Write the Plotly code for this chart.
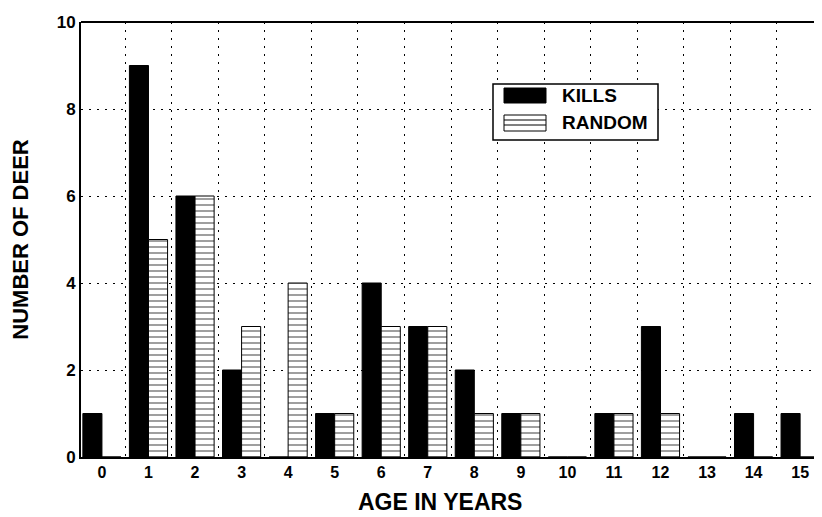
import plotly.graph_objects as go

ages = list(range(16))
kills = [1, 9, 6, 2, 0, 1, 4, 3, 2, 1, 0, 1, 3, 0, 1, 1]
random_ = [0, 5, 6, 3, 4, 1, 3, 3, 1, 1, 0, 1, 1, 0, 0, 0]
yticks = [0, 2, 4, 6, 8, 10]

FONT = "Liberation Sans, Arial, sans-serif"
DOT = "2px,6px"

W, H = 814, 509
L, R, T, B = 73, 0, 14, 60
PW, PH = W - L - R, H - T - B

def px(x):  # figure pixel -> paper x
    return (x - L) / PW

def py(y):  # figure pixel -> paper y
    return (H - B - y) / PH

fig = go.Figure()
fig.add_trace(go.Bar(
    x=ages, y=kills, name="KILLS", showlegend=False,
    marker=dict(color="black", line=dict(color="black", width=1)),
))
fig.add_trace(go.Bar(
    x=ages, y=random_, name="RANDOM", showlegend=False,
    marker=dict(color="white", line=dict(color="black", width=1),
                pattern=dict(shape="-", fgcolor="black", bgcolor="white",
                             size=6, solidity=0.25)),
))

fig.update_layout(
    width=W, height=H,
    margin=dict(l=L, r=R, t=T, b=B, autoexpand=False),
    paper_bgcolor="white", plot_bgcolor="white",
    barmode="group", bargap=0.18, bargroupgap=0,
    font=dict(family=FONT, color="black", size=16),
    xaxis=dict(
        range=[-0.45, 15.47], tickmode="array", tickvals=ages,
        ticktext=["<b>%d</b>" % a for a in ages], showgrid=False, zeroline=False,
        showline=True, linecolor="black", linewidth=2, mirror=False,
        ticks="", automargin=False, tickfont=dict(size=16, family=FONT),
        minor=dict(tickmode="linear", tick0=0.5, dtick=1, showgrid=True,
                   gridcolor="black", griddash=DOT, gridwidth=1, ticks=""),
    ),
    yaxis=dict(
        range=[0, 10], tickmode="array", tickvals=yticks,
        ticktext=["<b>%d</b>" % v for v in yticks],
        showgrid=True, gridcolor="black", griddash=DOT, gridwidth=1,
        zeroline=False, showline=True, linecolor="black", linewidth=2,
        ticks="", automargin=False, tickfont=dict(size=17, family=FONT),
        title=dict(text="<b>NUMBER OF DEER</b>", font=dict(size=22, family=FONT), standoff=23),
    ),
)
# x axis title placed as in the original (slightly left of plot centre)
fig.add_annotation(text="<b>AGE IN YEARS</b>", xref="paper", yref="paper",
                   x=px(432), y=py(494), xanchor="center", yanchor="middle",
                   showarrow=False, font=dict(size=23, family=FONT, color="black"))

# top border
fig.add_shape(type="line", xref="paper", yref="paper", x0=0, x1=1, y0=1, y1=1,
              line=dict(color="black", width=2))

# legend box (drawn manually to get the wide swatches)
fig.add_shape(type="rect", xref="paper", yref="paper",
              x0=px(485), x1=px(650), y0=py(76), y1=py(132),
              line=dict(color="black", width=1.5), fillcolor="white", layer="above")
fig.add_shape(type="rect", xref="paper", yref="paper",
              x0=px(496), x1=px(538), y0=py(80), y1=py(95),
              line=dict(color="black", width=1), fillcolor="black", layer="above")
fig.add_shape(type="rect", xref="paper", yref="paper",
              x0=px(496), x1=px(538), y0=py(107), y1=py(123),
              line=dict(color="black", width=1), fillcolor="white", layer="above")
for yy in (112, 117):
    fig.add_shape(type="line", xref="paper", yref="paper",
                  x0=px(496), x1=px(538), y0=py(yy), y1=py(yy),
                  line=dict(color="black", width=1), layer="above")
for label, yy in (("KILLS", 88), ("RANDOM", 115)):
    fig.add_annotation(text="<b>%s</b>" % label, xref="paper", yref="paper",
                       x=px(552), y=py(yy), xanchor="left", yanchor="middle",
                       showarrow=False, font=dict(size=19, family=FONT, color="black"))

fig.write_html("out.html")
